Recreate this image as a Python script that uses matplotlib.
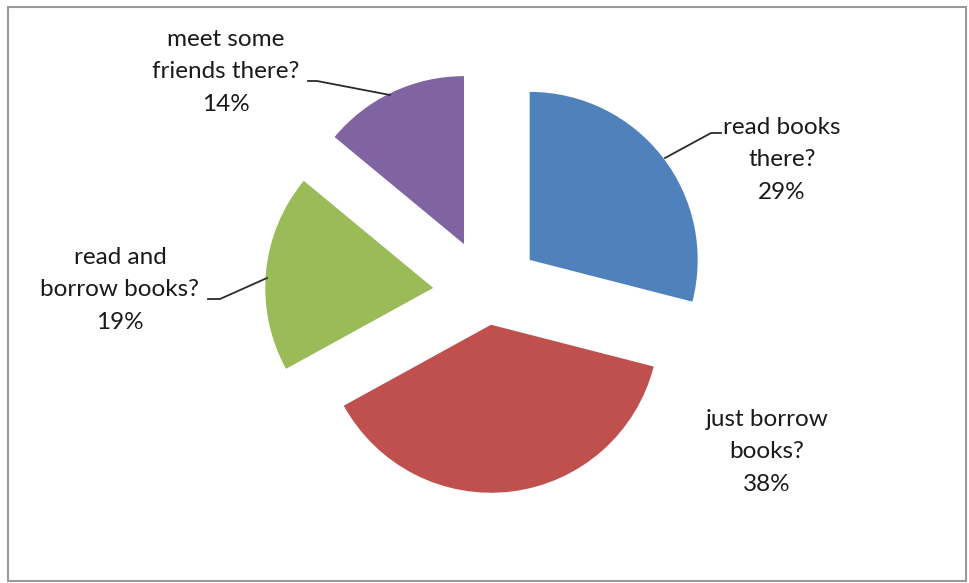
import matplotlib
matplotlib.use("Agg")
import matplotlib.pyplot as plt
from matplotlib.patches import Rectangle

labels = ["read books\nthere?", "just borrow\nbooks?", "read and\nborrow books?", "meet some\nfriends there?"]
shares = [29, 38, 19, 14]
colors = ["#4F81BD", "#C0504D", "#9BBB59", "#8064A2"]
explode = [54, 32, 54, 54]

W, H = 969, 583
fig = plt.figure(figsize=(W / 100, H / 100), dpi=100)
ax = fig.add_axes([0, 0, 1, 1])

ax.pie(shares, colors=colors, explode=explode, startangle=90, counterclock=False,
       radius=168, center=(487, 290), frame=True,
       wedgeprops=dict(linewidth=0))
ax.set_xlim(0, W)
ax.set_ylim(0, H)
ax.axis("off")

# chart-area border
fig.patches.append(Rectangle((8, 2), 958, 574, transform=None, fill=False,
                             edgecolor="#9a9a9a", linewidth=1.5))

font = dict(family=["Lato", "DejaVu Sans"], fontsize=17.5, color="#1a1a1a",
            ha="center", va="center", linespacing=1.66)

# label anchors (x, y measured from the top) and leader lines
label_pos = [(782, 160), (767, 452), (120, 290), (226, 72)]
leaders = [
    [(665, 158), (711, 133), (721, 133)],
    None,
    [(267, 278), (220, 299), (208, 299)],
    [(390, 95), (317, 81), (308, 81)],
]

for lab, s, (x, y), ld in zip(labels, shares, label_pos, leaders):
    ax.text(x, H - y, f"{lab}\n{s}%", **font)
    if ld:
        xs = [p[0] for p in ld]
        ys = [H - p[1] for p in ld]
        ax.plot(xs, ys, color="#2b2b2b", linewidth=1.3)

fig.savefig("out.png", dpi=100)
